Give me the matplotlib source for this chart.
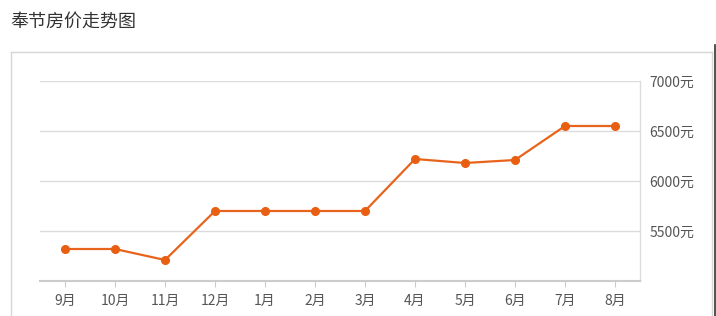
import matplotlib
matplotlib.use('Agg')
import matplotlib.pyplot as plt
from matplotlib.lines import Line2D

plt.rcParams['font.family'] = ['Noto Sans CJK SC', 'DejaVu Sans']

months = ['9月', '10月', '11月', '12月', '1月', '2月', '3月', '4月', '5月', '6月', '7月', '8月']
prices = [5320, 5320, 5210, 5700, 5700, 5700, 5700, 6220, 6180, 6210, 6550, 6550]
yticks = [5500, 6000, 6500, 7000]

W, H = 716, 316
line_color = '#e8641c'
text_color = '#555555'
grid_color = '#dcdcdc'

fig = plt.figure(figsize=(W / 100, H / 100), dpi=100)
fig.patch.set_facecolor('white')

# title and card border
fig.text(10 / W, 1 - 22 / H, '奉节房价走势图', fontsize=13, color='#333333', va='center', ha='left')
for xs, ys in [([10.5 / W, 10.5 / W], [0, 1 - 52 / H]),
               ([10.5 / W, 712 / W], [1 - 52 / H, 1 - 52 / H]),
               ([712 / W, 712 / W], [0, 1 - 52 / H])]:
    fig.add_artist(Line2D(xs, ys, color='#d6d6d6', lw=1.0, transform=fig.transFigure))
fig.add_artist(Line2D([714.8 / W, 714.8 / W], [0, 1 - 45 / H], color='#333333', lw=1.2,
                      transform=fig.transFigure))

ax = fig.add_axes([40 / W, 1 - 281 / H, 600 / W, 200 / H])
x = list(range(len(months)))
ax.plot(x, prices, color=line_color, lw=1.6, marker='o', markersize=5.5,
        markerfacecolor='#e85f12', markeredgecolor='#e85f12', zorder=3)

ax.set_xlim(-0.5, len(months) - 0.5)
ax.set_ylim(5000, 7000)
ax.set_xticks(x)
ax.set_xticklabels(months)
ax.set_yticks(yticks)
ax.set_yticklabels([f'{v}元' for v in yticks])
ax.yaxis.tick_right()
ax.tick_params(axis='y', length=0, pad=7, labelsize=10, labelcolor=text_color)
ax.tick_params(axis='x', length=4, width=0.8, color='#cccccc', pad=5, labelsize=10, labelcolor=text_color)
for lbl in ax.get_yticklabels():
    lbl.set_horizontalalignment('left')

ax.grid(axis='y', color=grid_color, lw=1.0)
ax.set_axisbelow(True)
for s in ['left', 'top']:
    ax.spines[s].set_visible(False)
ax.spines['right'].set_color(grid_color)
ax.spines['right'].set_linewidth(1.0)
ax.spines['bottom'].set_color('#cccccc')
ax.spines['bottom'].set_linewidth(1.5)

fig.savefig('out.png', dpi=100)
